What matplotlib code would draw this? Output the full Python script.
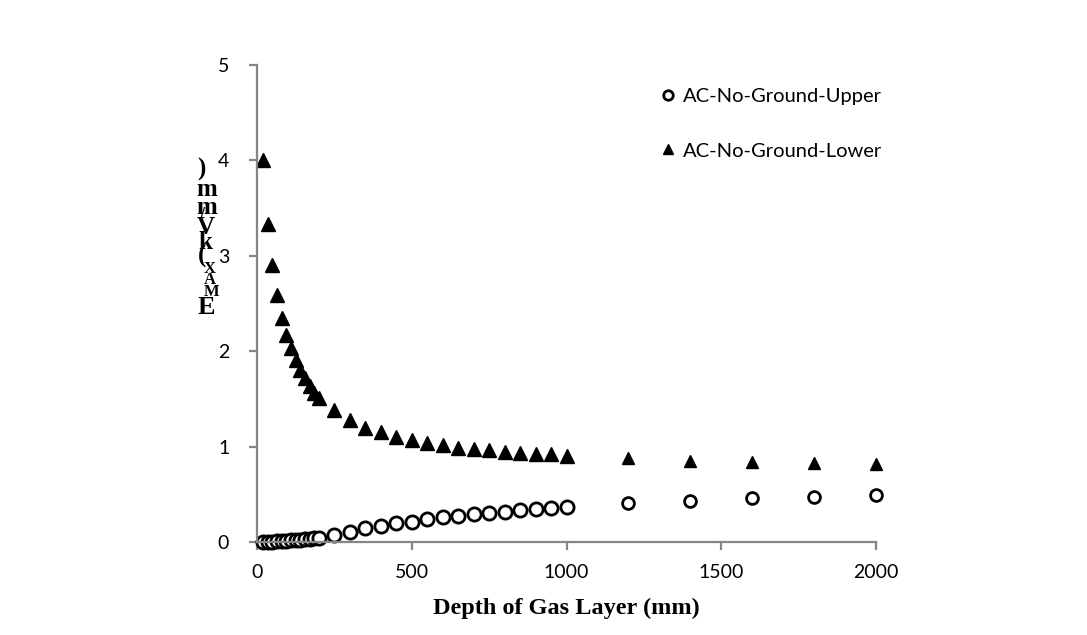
import numpy as np
import matplotlib
matplotlib.use('Agg')
import matplotlib.pyplot as plt

# depth of gas layer (mm)
depth_near = [20, 35, 50, 65, 80, 95, 110, 125, 140, 155, 170, 185, 200,
              250, 300, 350, 400, 450, 500, 550, 600, 650, 700, 750, 800,
              850, 900, 950, 1000]
depth_far = [1200, 1400, 1600, 1800, 2000]

# E_MAX (kV/mm)
upper_near = [0.00, 0.002, 0.005, 0.008, 0.011, 0.014, 0.018, 0.021, 0.025,
              0.029, 0.033, 0.037, 0.042,
              0.073, 0.108, 0.143, 0.168, 0.196, 0.213, 0.238, 0.259, 0.273,
              0.290, 0.307, 0.318, 0.335, 0.343, 0.360, 0.370]
upper_far = [0.410, 0.433, 0.458, 0.475, 0.493]

lower_near = [4.00, 3.33, 2.90, 2.59, 2.35, 2.17, 2.03, 1.91, 1.80, 1.72,
              1.63, 1.56, 1.51,
              1.38, 1.28, 1.20, 1.15, 1.10, 1.07, 1.04, 1.02, 0.99, 0.975,
              0.964, 0.947, 0.936, 0.925, 0.92, 0.90]
lower_far = [0.877, 0.852, 0.835, 0.825, 0.814]

label_upper = 'AC-No-Ground-Upper'
label_lower = 'AC-No-Ground-Lower'

W, H = 1087, 635
fig = plt.figure(figsize=(W / 100, H / 100), dpi=100)
ax = fig.add_axes([257 / W, 1 - 542 / H, 619 / W, 477 / H])

ax.plot(depth_near, upper_near, 'o', mfc='white', mec='black', mew=2, ms=9.5,
        label=label_upper, clip_on=False)
ax.plot(depth_far, upper_far, 'o', mfc='white', mec='black', mew=2, ms=8.5, clip_on=False)
ax.plot(depth_near, lower_near, '^', color='black', ms=9.5, label=label_lower, clip_on=False)
ax.plot(depth_far, lower_far, '^', color='black', ms=8.5, clip_on=False)

ax.set_xlim(0, 2000)
ax.set_ylim(0, 5)
ax.set_xticks([0, 500, 1000, 1500, 2000])
ax.set_yticks([0, 1, 2, 3, 4, 5])

gray = '#868686'
for s in ['top', 'right']:
    ax.spines[s].set_visible(False)
for s in ['left', 'bottom']:
    ax.spines[s].set_color(gray)
    ax.spines[s].set_linewidth(1.6)
ax.tick_params(axis='both', direction='out', length=6, width=1.6, color=gray,
               labelsize=14)
ax.tick_params(axis='y', pad=14)
ax.tick_params(axis='x', pad=10)
for lab in ax.get_xticklabels() + ax.get_yticklabels():
    lab.set_fontfamily('Lato')

ax.set_xlabel('Depth of Gas Layer (mm)', fontfamily='Liberation Serif',
              fontweight='bold', fontsize=17.5, labelpad=12)

leg = ax.legend(loc='upper left', bbox_to_anchor=(652 / W, 1 - 80 / H),
                bbox_transform=fig.transFigure, frameon=False,
                prop={'family': 'Lato', 'size': 14.5}, handlelength=0.75,
                handletextpad=0.4, labelspacing=1.85, markerscale=0.72,
                borderaxespad=0)

# garbled stacked y label as in the source picture
ylab_chars = [(')', 201, 169, 18), ('m', 207, 190, 18), ('m', 207, 208, 18),
              ('/', 202, 216, 13), ('V', 206, 227, 18), ('k', 205, 242, 18),
              ('(', 202, 256, 18), ('X', 210, 269, 12), ('A', 210, 280, 12),
              ('M', 212, 292, 12), ('E', 206, 308, 19)]
for ch, px, py, fs in ylab_chars:
    fig.text(px / W, 1 - py / H, ch, ha='center', va='center',
             fontfamily='Liberation Serif', fontweight='bold', fontsize=fs)

fig.savefig('out.png', dpi=100)
